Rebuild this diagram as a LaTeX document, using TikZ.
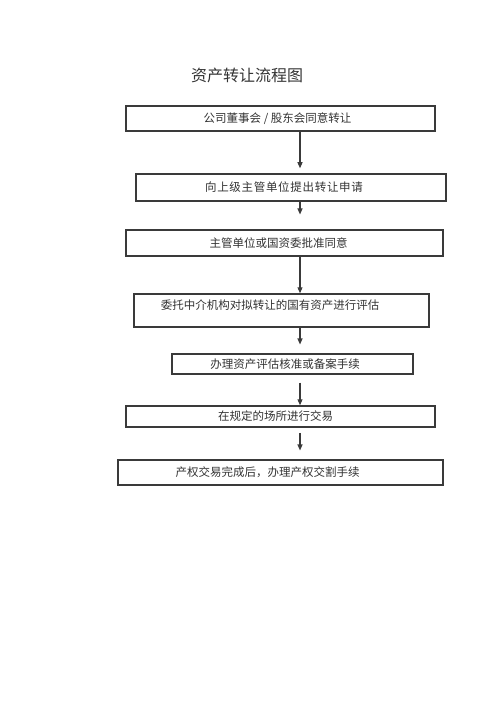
\documentclass[tikz,border=0pt]{standalone}
\usepackage{fontspec}
\newfontfamily\cjk{Noto Sans CJK SC}
\usetikzlibrary{arrows.meta}
\definecolor{ln}{HTML}{3A3A3A}
\definecolor{tx}{HTML}{333333}
\tikzset{
  box/.style={draw=ln, line width=1.1pt, rectangle, inner sep=0pt},
  boldbox/.style={box, line width=1.5pt},
  txt/.style={text=tx, font=\cjk\fontsize{11.5}{13}\selectfont, inner sep=0pt},
  ttl/.style={text=tx, font=\cjk\fontsize{16}{18}\selectfont, inner sep=0pt},
  arr/.style={draw=ln, line width=1.1pt, -{Triangle[width=5pt,length=6pt]}}
}
\begin{document}
\begin{tikzpicture}[x=1pt,y=-1pt]
\useasboundingbox[fill=white] (0,0) rectangle (500,708);
\node[ttl] (title) at (247,75) {资产转让流程图};
% boxes
\node[box, minimum width=309pt, minimum height=25pt] (b1) at (280.5,118.5) {};
\node[boldbox, minimum width=310pt, minimum height=27pt] (b2) at (291,187.5) {};
\node[box, minimum width=317pt, minimum height=26pt] (b3) at (284.5,243) {};
\node[boldbox, minimum width=295pt, minimum height=33pt] (b4) at (281.5,310.5) {};
\node[box, minimum width=241pt, minimum height=20pt] (b5) at (292.5,364) {};
\node[boldbox, minimum width=309pt, minimum height=21pt] (b6) at (280.5,416.5) {};
\node[box, minimum width=325pt, minimum height=25pt] (b7) at (280.5,472.5) {};
% texts
\node[txt] (t1) at (277.5,118.5) {公司董事会 / 股东会同意转让};
\node[txt] (t2) at (284,187.5) {\addfontfeature{LetterSpace=6}向上级主管单位提出转让申请};
\node[txt] (t3) at (278.5,243) {主管单位或国资委批准同意};
\node[txt] (t4) at (270,305.5) {委托中介机构对拟转让的国有资产进行评估};
\node[txt] (t5) at (285,364) {办理资产评估核准或备案手续};
\node[txt] (t6) at (275.5,416.5) {在规定的场所进行交易};
\node[txt] (t7) at (267.5,472.5) {产权交易完成后，办理产权交割手续};
% arrows
\coordinate (ax) at (300,0);
\draw[arr, shorten >=5pt] (b1.south -| ax) -- (b2.north -| ax);
\draw[arr, shorten >=15pt] (b2.south -| ax) -- (b3.north -| ax);
\draw[arr] (b3.south -| ax) -- (b4.north -| ax);
\draw[arr, shorten >=9pt] (b4.south -| ax) -- (b5.north -| ax);
\draw[arr, shorten <=8pt] (b5.south -| ax) -- (b6.north -| ax);
\draw[arr, shorten <=5pt, shorten >=9pt] (b6.south -| ax) -- (b7.north -| ax);
\end{tikzpicture}
\end{document}
